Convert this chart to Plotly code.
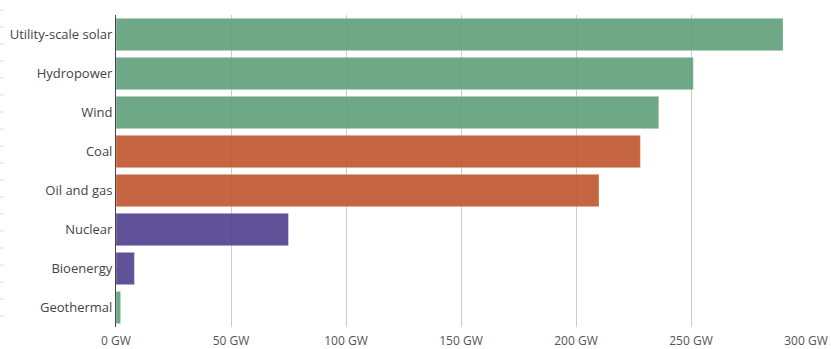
import plotly.graph_objects as go

categories = ["Utility-scale solar", "Hydropower", "Wind", "Coal", "Oil and gas",
              "Nuclear", "Bioenergy", "Geothermal"]
capacity_gw = [290, 251, 236, 228, 210, 75, 8, 2]
groups = ["renewable", "renewable", "renewable", "fossil", "fossil",
          "other", "other", "renewable"]
group_colors = {"renewable": "#5f9f7b", "fossil": "#c0552e", "other": "#4f3f8f"}

colors = [group_colors[g] for g in groups]

fig = go.Figure(go.Bar(
    x=capacity_gw,
    y=categories,
    orientation="h",
    marker=dict(color=colors, opacity=0.9,
                line=dict(color="rgba(255,255,255,0.35)", width=1)),
    hoverinfo="x+y",
))

# faint dashes along the left edge
plot_w, plot_h, plot_top = 690, 312, 15
edge_marks = [dict(type="line", xref="paper", yref="paper",
                   x0=-116 / plot_w, x1=-112 / plot_w,
                   y0=(plot_top + plot_h - y) / plot_h,
                   y1=(plot_top + plot_h - y) / plot_h,
                   line=dict(color="#cfe0f0", width=1))
              for y in [10, 27, 44, 61, 78, 95, 112, 129, 146, 163, 180,
                        197, 214, 231, 248, 265, 282, 299, 316]]

fig.update_layout(
    width=831, height=349,
    margin=dict(l=116, r=25, t=15, b=22),
    paper_bgcolor="white", plot_bgcolor="white",
    font=dict(family="Open Sans", size=12, color="#444"),
    bargap=0.17,
    showlegend=False,
    shapes=edge_marks,
    xaxis=dict(
        range=[0, 300], tick0=0, dtick=50, ticksuffix=" GW",
        showgrid=True, gridcolor="#cccccc", gridwidth=1,
        zeroline=False, showline=False, automargin=False,
        ticks="outside", ticklen=3, tickcolor="rgba(0,0,0,0)",
        tickfont=dict(size=12, color="#555"),
    ),
    yaxis=dict(
        categoryorder="array", categoryarray=categories[::-1],
        showline=True, linecolor="#444", linewidth=1, automargin=False,
        ticks="", ticklen=0, tickfont=dict(size=13, color="#444"),
        showgrid=False,
    ),
)

fig.write_html("out.html")
